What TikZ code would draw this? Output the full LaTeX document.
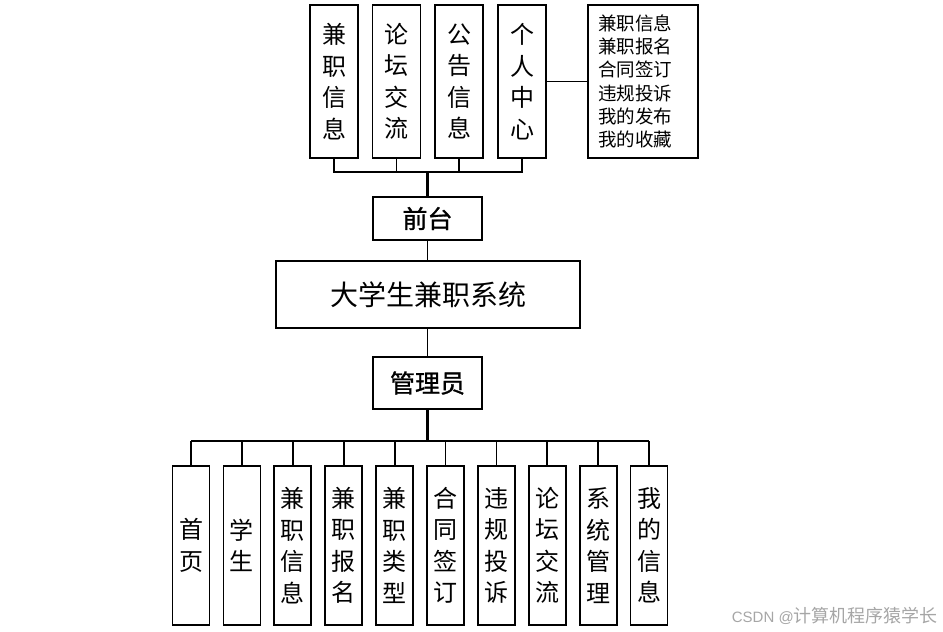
\documentclass[tikz,border=0pt]{standalone}
\usepackage{fontspec}
\setmainfont{Noto Sans CJK SC}
\newfontfamily\latinfont{Liberation Sans}
\newfontfamily\cjkmed[FakeBold=1.2]{Noto Sans CJK SC}
\usetikzlibrary{positioning}

\begin{document}
\begin{tikzpicture}[x=1pt, y=-1pt,
        vbox/.style={rectangle, draw=black, line width=1.7pt, fill=white, align=center, inner sep=0pt,
                     font=\fontsize{24}{31.5}\selectfont},
        topbox/.style={vbox, minimum width=48pt, minimum height=153pt},
        lowbox/.style={vbox, minimum width=37pt, minimum height=159pt},
        midbox/.style={rectangle, draw=black, line width=1.7pt, fill=white, align=center, inner sep=0pt},
        link/.style={line width=1.8pt},
        trunk/.style={line width=2.8pt},
        ]
            \useasboundingbox (0,0) rectangle (943,632);

            % front end
            \node[topbox] (jzxx) at (334,81.5) {兼\\职\\信\\息};
            \node[topbox] (ltjl) at (396.5,81.5) {论\\坛\\交\\流};
            \node[topbox] (ggxx) at (459,81.5) {公\\告\\信\\息};
            \node[topbox] (grzx) at (522,81.5) {个\\人\\中\\心};
            \node[midbox, minimum height=153pt, text width=90pt, inner xsep=10pt, align=left,
                  font=\fontsize{18.5}{23.3}\selectfont] (grxx) at (643,81.5)
                  {兼职信息\\兼职报名\\合同签订\\违规投诉\\我的发布\\我的收藏};
            \draw[link] (grzx.east) -- (grxx.west);

            \node[midbox, minimum width=109pt, minimum height=43pt, font=\fontsize{25}{25}\cjkmed] (qt) at (427.5,218.5) {前台};
            \coordinate (qtbar) at (427.5,172);
            \draw[link] (jzxx.south) -- (jzxx.south |- qtbar) -- (grzx.south |- qtbar) -- (grzx.south);
            \draw[link] (ltjl.south) -- (ltjl.south |- qtbar);
            \draw[link] (ggxx.south) -- (ggxx.south |- qtbar);
            \draw[trunk] (qtbar) -- (qt.north);

            % system
            \node[midbox, minimum width=304pt, minimum height=67pt, font=\fontsize{28}{28}\selectfont] (sys) at (428,294.5) {大学生兼职系统};
            \draw[link] (qt.south) -- (qt.south |- sys.north);

            % admin
            \node[midbox, minimum width=109pt, minimum height=52pt, font=\fontsize{25}{25}\cjkmed] (gly) at (427.5,383) {管理员};
            \draw[link] (sys.south -| gly.north) -- (gly.north);
            \coordinate (glybar) at (427.5,441);
            \draw[trunk] (gly.south) -- (glybar);

            \foreach \lbl [count=\i] in {{首\\页}, {学\\生}, {兼\\职\\信\\息}, {兼\\职\\报\\名}, {兼\\职\\类\\型},
                                         {合\\同\\签\\订}, {违\\规\\投\\诉}, {论\\坛\\交\\流}, {系\\统\\管\\理}, {我\\的\\信\\息}}
            {
                \node[lowbox] (m\i) at ({191+50.9*(\i-1)},545.5) {\lbl};
                \draw[link] (m\i.north) -- (m\i.north |- glybar);
            }
            \draw[link] (m1.north |- glybar) -- (m10.north |- glybar);

            \node[anchor=east, text=black!35, inner sep=0pt] (mark) at (938,616)
                 {{\latinfont\fontsize{15}{15}\selectfont CSDN @}{\fontsize{18}{18}\selectfont 计算机程序猿学长}};
        \end{tikzpicture}
\end{document}
